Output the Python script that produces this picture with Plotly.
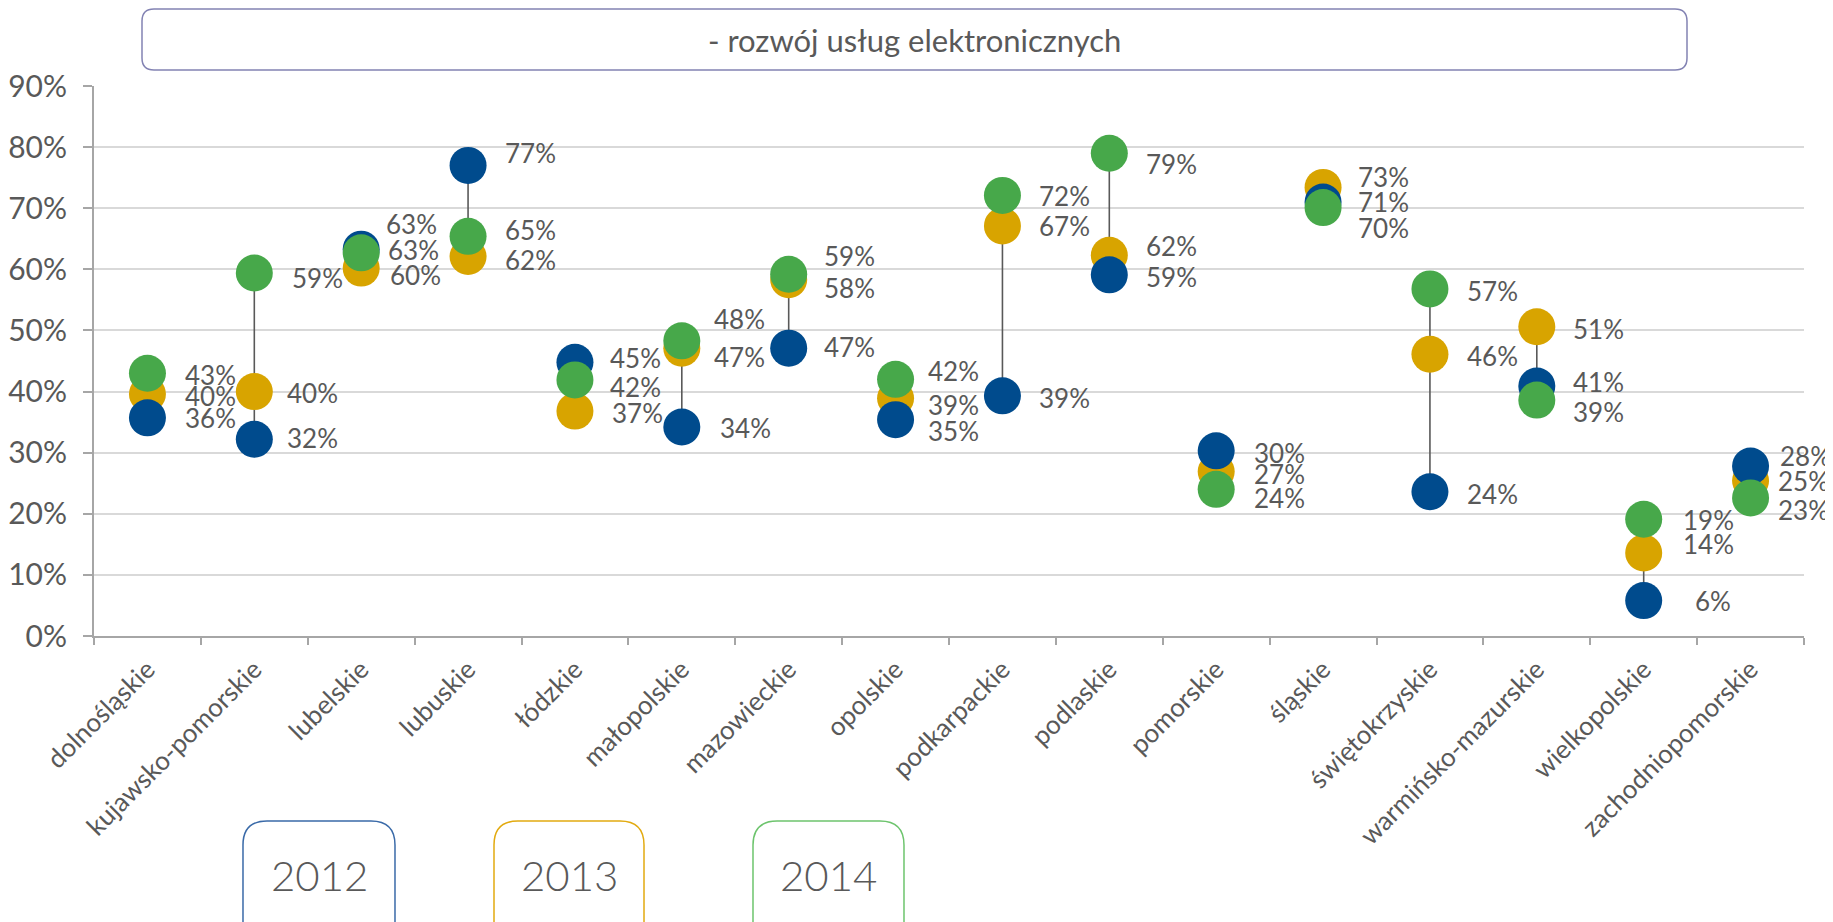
import plotly.graph_objects as go

# ---------------- data ----------------
categories = ["dolnośląskie", "kujawsko-pomorskie", "lubelskie", "lubuskie", "łódzkie",
              "małopolskie", "mazowieckie", "opolskie", "podkarpackie", "podlaskie",
              "pomorskie", "śląskie", "świętokrzyskie", "warmińsko-mazurskie",
              "wielkopolskie", "zachodniopomorskie"]
years = ["2012", "2013", "2014"]
v2012 = [35.7, 32.2, 63.3, 77.0, 44.8, 34.2, 47.1, 35.4, 39.3, 59.1, 30.3, 71.0, 23.6, 40.9, 5.8, 27.8]
v2013 = [39.6, 40.0, 60.2, 62.1, 36.8, 47.1, 58.3, 38.9, 67.1, 62.3, 26.9, 73.4, 46.1, 50.6, 13.6, 25.4]
v2014 = [43.0, 59.4, 62.7, 65.4, 41.9, 48.3, 59.2, 42.0, 72.1, 79.0, 24.0, 70.1, 56.8, 38.6, 19.1, 22.6]
y_ticks = [0, 10, 20, 30, 40, 50, 60, 70, 80, 90]
title_text = "- rozwój usług elektronicznych"

# ---------------- style ----------------
series = {"2012": v2012, "2013": v2013, "2014": v2014}
colors = {"2012": "#004B8D", "2013": "#D8A400", "2014": "#47A84A"}
box_colors = {"2012": "#3A6AA8", "2013": "#E2AA10", "2014": "#6DC46D"}
draw_order = ["2013", "2012", "2014"]
TXT = "#595959"
FONT = "Lato"

OFF = 8  # page body margin
W, H = 1833 - OFF, 922 - OFF
L, R, T, B = 94 - OFF, 29, 86 - OFF, 286
PW, PH = W - L - R, H - T - B

# label nudges in px: (xshift, yshift)
default_dx = 34
label_nudge = {
    ("dolnośląskie", "2012"): (36, 0), ("dolnośląskie", "2013"): (36, -2), ("dolnośląskie", "2014"): (36, -2),
    ("kujawsko-pomorskie", "2014"): (36, -5), ("kujawsko-pomorskie", "2013"): (31, -1), ("kujawsko-pomorskie", "2012"): (31, 1),
    ("lubelskie", "2012"): (23, 25), ("lubelskie", "2014"): (25, 3), ("lubelskie", "2013"): (27, -7),
    ("lubuskie", "2012"): (35, 12), ("lubuskie", "2014"): (35, 6), ("lubuskie", "2013"): (35, -3),
    ("łódzkie", "2012"): (33, 4), ("łódzkie", "2014"): (33, -7), ("łódzkie", "2013"): (35, -2),
    ("małopolskie", "2014"): (30, 22), ("małopolskie", "2013"): (30, -9), ("małopolskie", "2012"): (36, -1),
    ("mazowieckie", "2014"): (33, 18), ("mazowieckie", "2013"): (33, -8), ("mazowieckie", "2012"): (33, 1),
    ("opolskie", "2014"): (30, 8), ("opolskie", "2013"): (30, -7), ("opolskie", "2012"): (30, -11),
    ("podkarpackie", "2014"): (35, -1), ("podkarpackie", "2013"): (35, 0), ("podkarpackie", "2012"): (35, -2),
    ("podlaskie", "2014"): (35, -11), ("podlaskie", "2013"): (35, 9), ("podlaskie", "2012"): (35, -2),
    ("pomorskie", "2012"): (36, -2), ("pomorskie", "2013"): (36, -2), ("pomorskie", "2014"): (36, -9),
    ("śląskie", "2013"): (33, 10), ("śląskie", "2012"): (33, 0), ("śląskie", "2014"): (33, -20),
    ("świętokrzyskie", "2014"): (35, -2), ("świętokrzyskie", "2013"): (35, -2), ("świętokrzyskie", "2012"): (35, -2),
    ("warmińsko-mazurskie", "2013"): (34, -2), ("warmińsko-mazurskie", "2012"): (34, 4), ("warmińsko-mazurskie", "2014"): (34, -12),
    ("wielkopolskie", "2014"): (37, -1), ("wielkopolskie", "2013"): (37, 9), ("wielkopolskie", "2012"): (49, 0),
    ("zachodniopomorskie", "2012"): (27, 10), ("zachodniopomorskie", "2013"): (25, 0), ("zachodniopomorskie", "2014"): (25, -12),
}

fig = go.Figure()

# high-low lines
lx, ly = [], []
for i, c in enumerate(categories):
    vals = [v2012[i], v2013[i], v2014[i]]
    lx += [c, c, None]
    ly += [min(vals), max(vals), None]
fig.add_trace(go.Scatter(x=lx, y=ly, mode="lines", line=dict(color="#595959", width=1.6),
                         hoverinfo="skip", showlegend=False))

for yr in draw_order:
    fig.add_trace(go.Scatter(
        x=categories, y=series[yr], mode="markers", name=yr,
        marker=dict(size=37, color=colors[yr], line=dict(width=0), opacity=1),
        showlegend=False))

annotations = []
for yr in years:
    for c, v in zip(categories, series[yr]):
        dx, dy = label_nudge.get((c, yr), (default_dx, 0))
        annotations.append(dict(
            x=c, y=v, xref="x", yref="y", text=f"{v:.0f}%", showarrow=False,
            xanchor="left", yanchor="middle", xshift=dx, yshift=dy,
            font=dict(family=FONT, size=26, color=TXT)))


def px_to_paper(x, y):
    # x, y are window pixels
    return (x - OFF - L) / PW, (H - B - (y - OFF)) / PH


def rrect(x0, y0, x1, y1, r):
    pts = [("M", [(x0 + r, y0)]), ("L", [(x1 - r, y0)]), ("Q", [(x1, y0), (x1, y0 + r)]),
           ("L", [(x1, y1 - r)]), ("Q", [(x1, y1), (x1 - r, y1)]), ("L", [(x0 + r, y1)]),
           ("Q", [(x0, y1), (x0, y1 - r)]), ("L", [(x0, y0 + r)]), ("Q", [(x0, y0), (x0 + r, y0)])]
    s = ""
    for cmd, ps in pts:
        s += cmd + " " + " ".join("%.5f,%.5f" % px_to_paper(px, py) for px, py in ps) + " "
    return s + "Z"


shapes = [dict(type="path", xref="paper", yref="paper", path=rrect(142, 9, 1687, 70, 12),
               line=dict(color="#8383B3", width=1.5), fillcolor="rgba(0,0,0,0)")]
tx, ty = px_to_paper(914, 40)
annotations.append(dict(x=tx, y=ty, xref="paper", yref="paper", text=title_text, showarrow=False,
                        xanchor="center", yanchor="middle",
                        font=dict(family=FONT, size=31, color=TXT)))

legend_boxes = {"2012": (243, 395), "2013": (494, 644), "2014": (753, 904)}
for yr, (bx0, bx1) in legend_boxes.items():
    shapes.append(dict(type="path", xref="paper", yref="paper", path=rrect(bx0, 821, bx1, 980, 24),
                       line=dict(color=box_colors[yr], width=1.5), fillcolor="rgba(0,0,0,0)"))
    cx, cy = px_to_paper((bx0 + bx1) / 2, 875)
    annotations.append(dict(x=cx, y=cy, xref="paper", yref="paper", text=yr, showarrow=False,
                            xanchor="center", yanchor="middle",
                            font=dict(family=FONT, size=42, color=TXT, weight=300)))

fig.update_layout(
    width=W, height=H, autosize=False,
    margin=dict(l=L, r=R, t=T, b=B, pad=0, autoexpand=False),
    paper_bgcolor="white", plot_bgcolor="white",
    showlegend=False,
    shapes=shapes, annotations=annotations,
    font=dict(family=FONT, color=TXT),
)
fig.update_xaxes(
    type="category", categoryorder="array", categoryarray=categories,
    range=[-0.5, len(categories) - 0.5], automargin=False,
    showgrid=False, showline=True, linecolor="#A6A6A6", linewidth=2,
    ticks="outside", tickson="boundaries", ticklen=7, tickcolor="#A6A6A6", tickwidth=1.5,
    tickangle=-45, tickfont=dict(family=FONT, size=26, color=TXT),
    ticklabelstandoff=6, zeroline=False,
)
fig.update_yaxes(
    range=[0, 90], tickvals=y_ticks, ticktext=[f"{t}%" for t in y_ticks], automargin=False,
    showgrid=True, gridcolor="#D9D9D9", gridwidth=2,
    showline=True, linecolor="#A6A6A6", linewidth=2,
    ticks="outside", ticklen=9, tickcolor="#A6A6A6", tickwidth=1.5,
    tickfont=dict(family=FONT, size=30, color=TXT),
    ticklabelstandoff=10, zeroline=False,
)

fig.write_html("out.html")
